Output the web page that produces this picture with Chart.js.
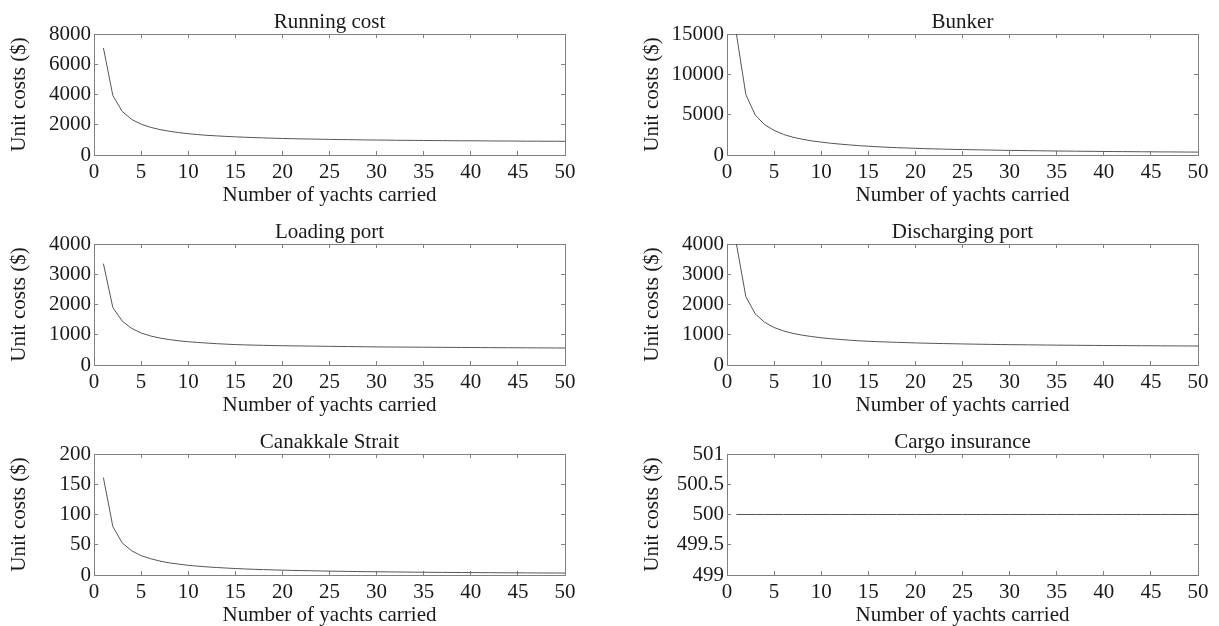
<!DOCTYPE html>
<html>
<head>
<meta charset="utf-8">
<script src="https://cdn.jsdelivr.net/npm/chart.js@4.4.1/dist/chart.umd.min.js"></script>
<style>
  html, body { margin: 0; padding: 0; background: #fff; overflow: hidden; }
  #wrap { position: relative; width: 1219px; height: 626px; overflow: hidden; }
  canvas { position: absolute; }
</style>
</head>
<body>
<div id="wrap">
  <canvas id="c-running" width="585" height="216" style="left:0;top:0"></canvas>
  <canvas id="c-bunker" width="585" height="216" style="left:633px;top:0"></canvas>
  <canvas id="c-loading" width="585" height="216" style="left:0;top:210px"></canvas>
  <canvas id="c-discharging" width="585" height="216" style="left:633px;top:210px"></canvas>
  <canvas id="c-canakkale" width="585" height="216" style="left:0;top:420px"></canvas>
  <canvas id="c-cargo" width="585" height="216" style="left:633px;top:420px"></canvas>
</div>
<script>
// ===== 数据：横轴 = 运载游艇数量 =====
const YACHTS = [1, 2, 3, 4, 5, 6, 7, 8, 9, 10, 11, 12, 13, 14, 15, 16, 17, 18, 19, 20,
  21, 22, 23, 24, 25, 26, 27, 28, 29, 30, 31, 32, 33, 34, 35, 36, 37, 38, 39, 40,
  41, 42, 43, 44, 45, 46, 47, 48, 49, 50];

const RUNNING_COST = [7080, 3930, 2880, 2350, 2040, 1830, 1680, 1570, 1480, 1410,
  1350, 1300, 1265, 1230, 1200, 1175, 1150, 1130, 1110, 1095,
  1080, 1065, 1055, 1045, 1030, 1020, 1015, 1005, 995, 990,
  985, 975, 970, 965, 960, 955, 950, 945, 940, 940,
  935, 930, 925, 925, 920, 915, 915, 910, 910, 905];

const BUNKER = [15000, 7500, 4950, 3750, 3050, 2550, 2200, 1950, 1750, 1600,
  1460, 1350, 1250, 1160, 1090, 1020, 960, 910, 870, 830,
  790, 760, 730, 700, 675, 650, 630, 610, 590, 570,
  555, 540, 525, 510, 495, 485, 475, 460, 450, 440,
  430, 420, 410, 400, 395, 385, 380, 370, 365, 360];

const LOADING_PORT = [3350, 1900, 1450, 1210, 1060, 960, 890, 840, 800, 770,
  745, 725, 705, 690, 675, 665, 657, 650, 643, 637,
  633, 629, 625, 621, 617, 613, 610, 606, 602, 598,
  596, 594, 592, 590, 588, 586, 584, 582, 580, 578,
  576, 574, 572, 571, 569, 568, 566, 565, 563, 562];

const DISCHARGING_PORT = [4000, 2260, 1690, 1410, 1240, 1125, 1045, 985, 940, 900,
  870, 845, 820, 800, 785, 770, 760, 750, 740, 730,
  722, 715, 708, 702, 696, 691, 686, 681, 677, 673,
  670, 666, 663, 660, 657, 654, 652, 649, 647, 645,
  643, 641, 639, 637, 635, 634, 632, 631, 629, 628];

const CANAKKALE = [161, 80, 53, 40, 32, 27, 23, 20, 18, 16,
  14.6, 13.4, 12.4, 11.5, 10.7, 10, 9.4, 8.9, 8.4, 8,
  7.6, 7.3, 7, 6.7, 6.4, 6.2, 5.9, 5.7, 5.5, 5.3,
  5.2, 5, 4.9, 4.7, 4.6, 4.4, 4.3, 4.2, 4.1, 4,
  3.9, 3.8, 3.7, 3.6, 3.6, 3.5, 3.4, 3.3, 3.3, 3.2];

const CARGO_INSURANCE = [500, 500, 500, 500, 500, 500, 500, 500, 500, 500,
  500, 500, 500, 500, 500, 500, 500, 500, 500, 500,
  500, 500, 500, 500, 500, 500, 500, 500, 500, 500,
  500, 500, 500, 500, 500, 500, 500, 500, 500, 500,
  500, 500, 500, 500, 500, 500, 500, 500, 500, 500];

// 纵轴范围 [min, max, step]
const Y_RUNNING = [0, 8000, 2000];
const Y_BUNKER = [0, 15000, 5000];
const Y_LOADING = [0, 4000, 1000];
const Y_DISCHARGING = [0, 4000, 1000];
const Y_CANAKKALE = [0, 200, 50];
const Y_CARGO = [499, 501, 0.5];
const X_RANGE = [0, 50, 5];

const X_TITLE = 'Number of yachts carried';
const Y_TITLE = 'Unit costs ($)';

// ===== 样式 =====
const FONT = 'Liberation Serif, Times New Roman, serif';
const TEXT_COLOR = '#1a1a1a';
const AXIS_COLOR = '#808080';
const LINE_COLOR = '#555555';

function inwardGrid() {
  return { display: true, drawOnChartArea: false, drawTicks: true, tickLength: -4, color: AXIS_COLOR, lineWidth: 1 };
}
function border() {
  return { display: true, color: AXIS_COLOR, width: 1 };
}

function makeChart(id, title, values, yRange) {
  const points = YACHTS.map((n, i) => ({ x: n, y: values[i] }));
  const tickFont = { family: FONT, size: 21, lineHeight: '24px' };
  return new Chart(document.getElementById(id), {
    type: 'line',
    data: {
      datasets: [{
        data: points,
        borderColor: LINE_COLOR,
        borderWidth: 1,
        pointRadius: 0,
        tension: 0,
        fill: false
      }]
    },
    options: {
      responsive: false,
      animation: false,
      events: [],
      layout: { padding: { left: 0, right: 20, top: 0, bottom: 0 } },
      plugins: {
        legend: { display: false },
        tooltip: { enabled: false },
        title: {
          display: true,
          fullSize: false,   // 标题居中于绘图区
          text: title,
          color: TEXT_COLOR,
          font: { family: FONT, size: 21, weight: 'normal', lineHeight: '23px' },
          padding: { top: 11, bottom: 0 }
        }
      },
      scales: {
        x: {
          type: 'linear',
          position: 'bottom',
          min: X_RANGE[0], max: X_RANGE[1],
          grid: inwardGrid(),
          border: border(),
          ticks: { stepSize: X_RANGE[2], autoSkip: false, maxRotation: 0, padding: 9,
                   color: TEXT_COLOR, font: tickFont, callback: v => String(v) },
          title: { display: true, text: X_TITLE, color: TEXT_COLOR, font: tickFont, padding: { top: 0, bottom: 9 } },
          afterFit: s => { s.height = 61; }
        },
        x2: {
          type: 'linear',
          position: 'top',
          min: X_RANGE[0], max: X_RANGE[1],
          grid: inwardGrid(),
          border: border(),
          ticks: { stepSize: X_RANGE[2], display: false },
          afterFit: s => { s.height = 0; }
        },
        y: {
          type: 'linear',
          position: 'left',
          min: yRange[0], max: yRange[1],
          grid: inwardGrid(),
          border: border(),
          ticks: { stepSize: yRange[2], padding: 7, color: TEXT_COLOR, font: tickFont, callback: v => String(v) },
          title: { display: true, text: Y_TITLE, color: TEXT_COLOR, font: tickFont, padding: { top: 7, bottom: 0 } },
          afterFit: s => { s.width = 94; }
        },
        y2: {
          type: 'linear',
          position: 'right',
          min: yRange[0], max: yRange[1],
          grid: inwardGrid(),
          border: border(),
          ticks: { stepSize: yRange[2], display: false },
          afterFit: s => { s.width = 0; }
        }
      }
    }
  });
}

makeChart('c-running', 'Running cost', RUNNING_COST, Y_RUNNING);
makeChart('c-bunker', 'Bunker', BUNKER, Y_BUNKER);
makeChart('c-loading', 'Loading port', LOADING_PORT, Y_LOADING);
makeChart('c-discharging', 'Discharging port', DISCHARGING_PORT, Y_DISCHARGING);
makeChart('c-canakkale', 'Canakkale Strait', CANAKKALE, Y_CANAKKALE);
makeChart('c-cargo', 'Cargo insurance', CARGO_INSURANCE, Y_CARGO);
</script>
</body>
</html>
